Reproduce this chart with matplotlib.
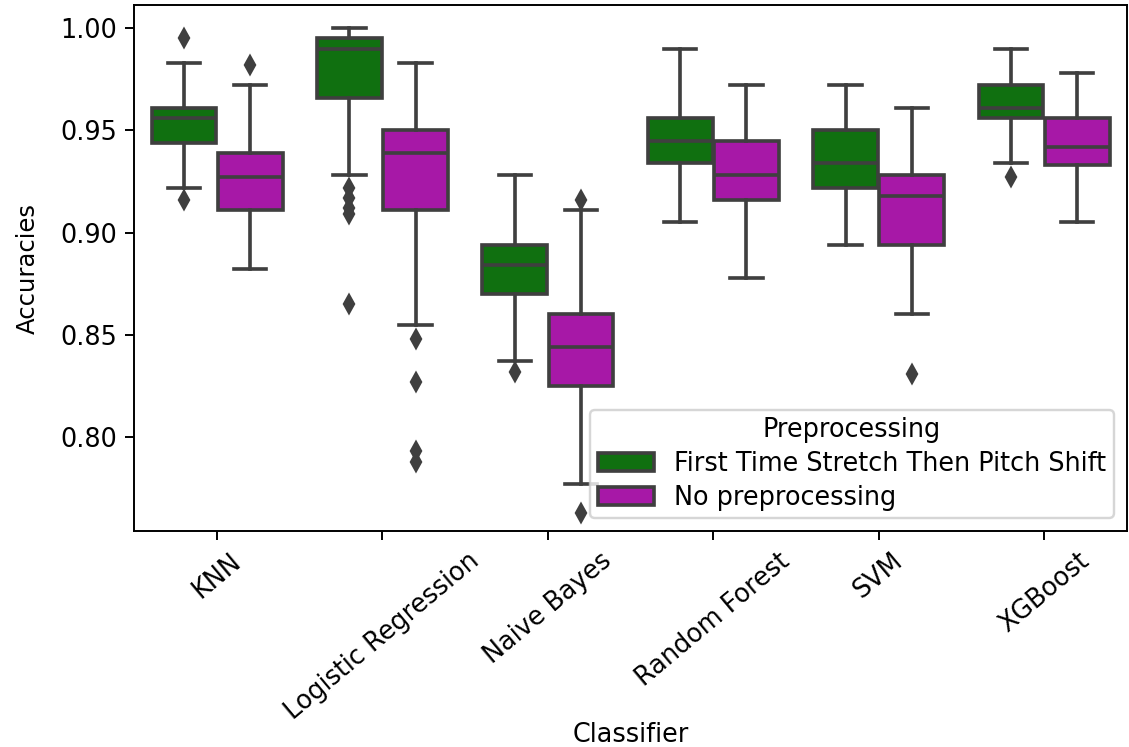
import matplotlib
matplotlib.use("Agg")
import matplotlib.pyplot as plt
from matplotlib.patches import Patch
import numpy as np

# -----------------------------------------------------
# DATA
# -----------------------------------------------------
classifiers = ["KNN", "Logistic Regression", "Naive Bayes",
               "Random Forest", "SVM", "XGBoost"]
hue_names = ["First Time Stretch Then Pitch Shift", "No preprocessing"]

# box statistics per classifier: whislo, q1, med, q3, whishi
stretch_whislo = [0.922, 0.928, 0.837, 0.905, 0.894, 0.934]
stretch_q1     = [0.944, 0.966, 0.870, 0.934, 0.922, 0.956]
stretch_med    = [0.956, 0.990, 0.884, 0.945, 0.934, 0.961]
stretch_q3     = [0.961, 0.995, 0.894, 0.956, 0.950, 0.972]
stretch_whishi = [0.983, 1.000, 0.928, 0.990, 0.972, 0.990]
stretch_fliers = [[0.995, 0.916],
                  [0.922, 0.917, 0.912, 0.909, 0.865],
                  [0.832],
                  [],
                  [],
                  [0.927]]

none_whislo = [0.882, 0.855, 0.777, 0.878, 0.860, 0.905]
none_q1     = [0.911, 0.911, 0.825, 0.916, 0.894, 0.933]
none_med    = [0.927, 0.939, 0.844, 0.928, 0.918, 0.942]
none_q3     = [0.939, 0.950, 0.860, 0.945, 0.928, 0.956]
none_whishi = [0.972, 0.983, 0.911, 0.972, 0.961, 0.978]
none_fliers = [[0.982],
               [0.848, 0.827, 0.793, 0.788],
               [0.916, 0.763],
               [],
               [0.831],
               []]

colors = ["#107010", "#a718a7"]
line_gray = "#3f3f3f"


def make_stats(whislo, q1, med, q3, whishi, fliers):
    stats = []
    for i in range(len(med)):
        stats.append({
            "whislo": whislo[i], "q1": q1[i], "med": med[i],
            "q3": q3[i], "whishi": whishi[i], "fliers": fliers[i],
        })
    return stats


# =====================================================
# PLOT
# =====================================================
plt.rcParams["font.size"] = 10.5

dpi = 175
fig = plt.figure(figsize=(1129 / dpi, 747 / dpi), dpi=dpi)
ax = fig.add_axes([0.119, 0.289, 0.879, 0.704])

groups = [
    make_stats(stretch_whislo, stretch_q1, stretch_med, stretch_q3,
               stretch_whishi, stretch_fliers),
    make_stats(none_whislo, none_q1, none_med, none_q3,
               none_whishi, none_fliers),
]
offsets = [-0.2, 0.2]
base = np.arange(len(classifiers))

for stats, off, col in zip(groups, offsets, colors):
    ax.bxp(
        stats,
        positions=base + off,
        widths=0.392,
        patch_artist=True,
        manage_ticks=False,
        boxprops=dict(facecolor=col, edgecolor=line_gray, linewidth=1.5),
        medianprops=dict(color=line_gray, linewidth=1.5),
        whiskerprops=dict(color=line_gray, linewidth=1.5),
        capprops=dict(color=line_gray, linewidth=1.5),
        flierprops=dict(marker="d", markerfacecolor=line_gray,
                        markeredgecolor=line_gray, markersize=5),
    )

ax.set_xlim(-0.5, len(classifiers) - 0.5)
ax.set_ylim(0.754, 1.0112)
ax.set_xticks(base)
ax.set_xticklabels(classifiers, rotation=40)
ax.set_yticks([0.80, 0.85, 0.90, 0.95, 1.00])

ax.set_xlabel("Classifier", va="center")
ax.xaxis.set_label_coords(0.5, -0.388)
ax.set_ylabel("Accuracies", va="center", fontsize=10)
ax.yaxis.set_label_coords(-0.107, 0.5)

handles = [Patch(facecolor=c, edgecolor=line_gray, linewidth=1.5) for c in colors]
ax.legend(handles, hue_names, title="Preprocessing", loc="lower right",
          labelspacing=0.3, borderpad=0.3, handlelength=2.2)

fig.savefig("out.png", dpi=dpi)
